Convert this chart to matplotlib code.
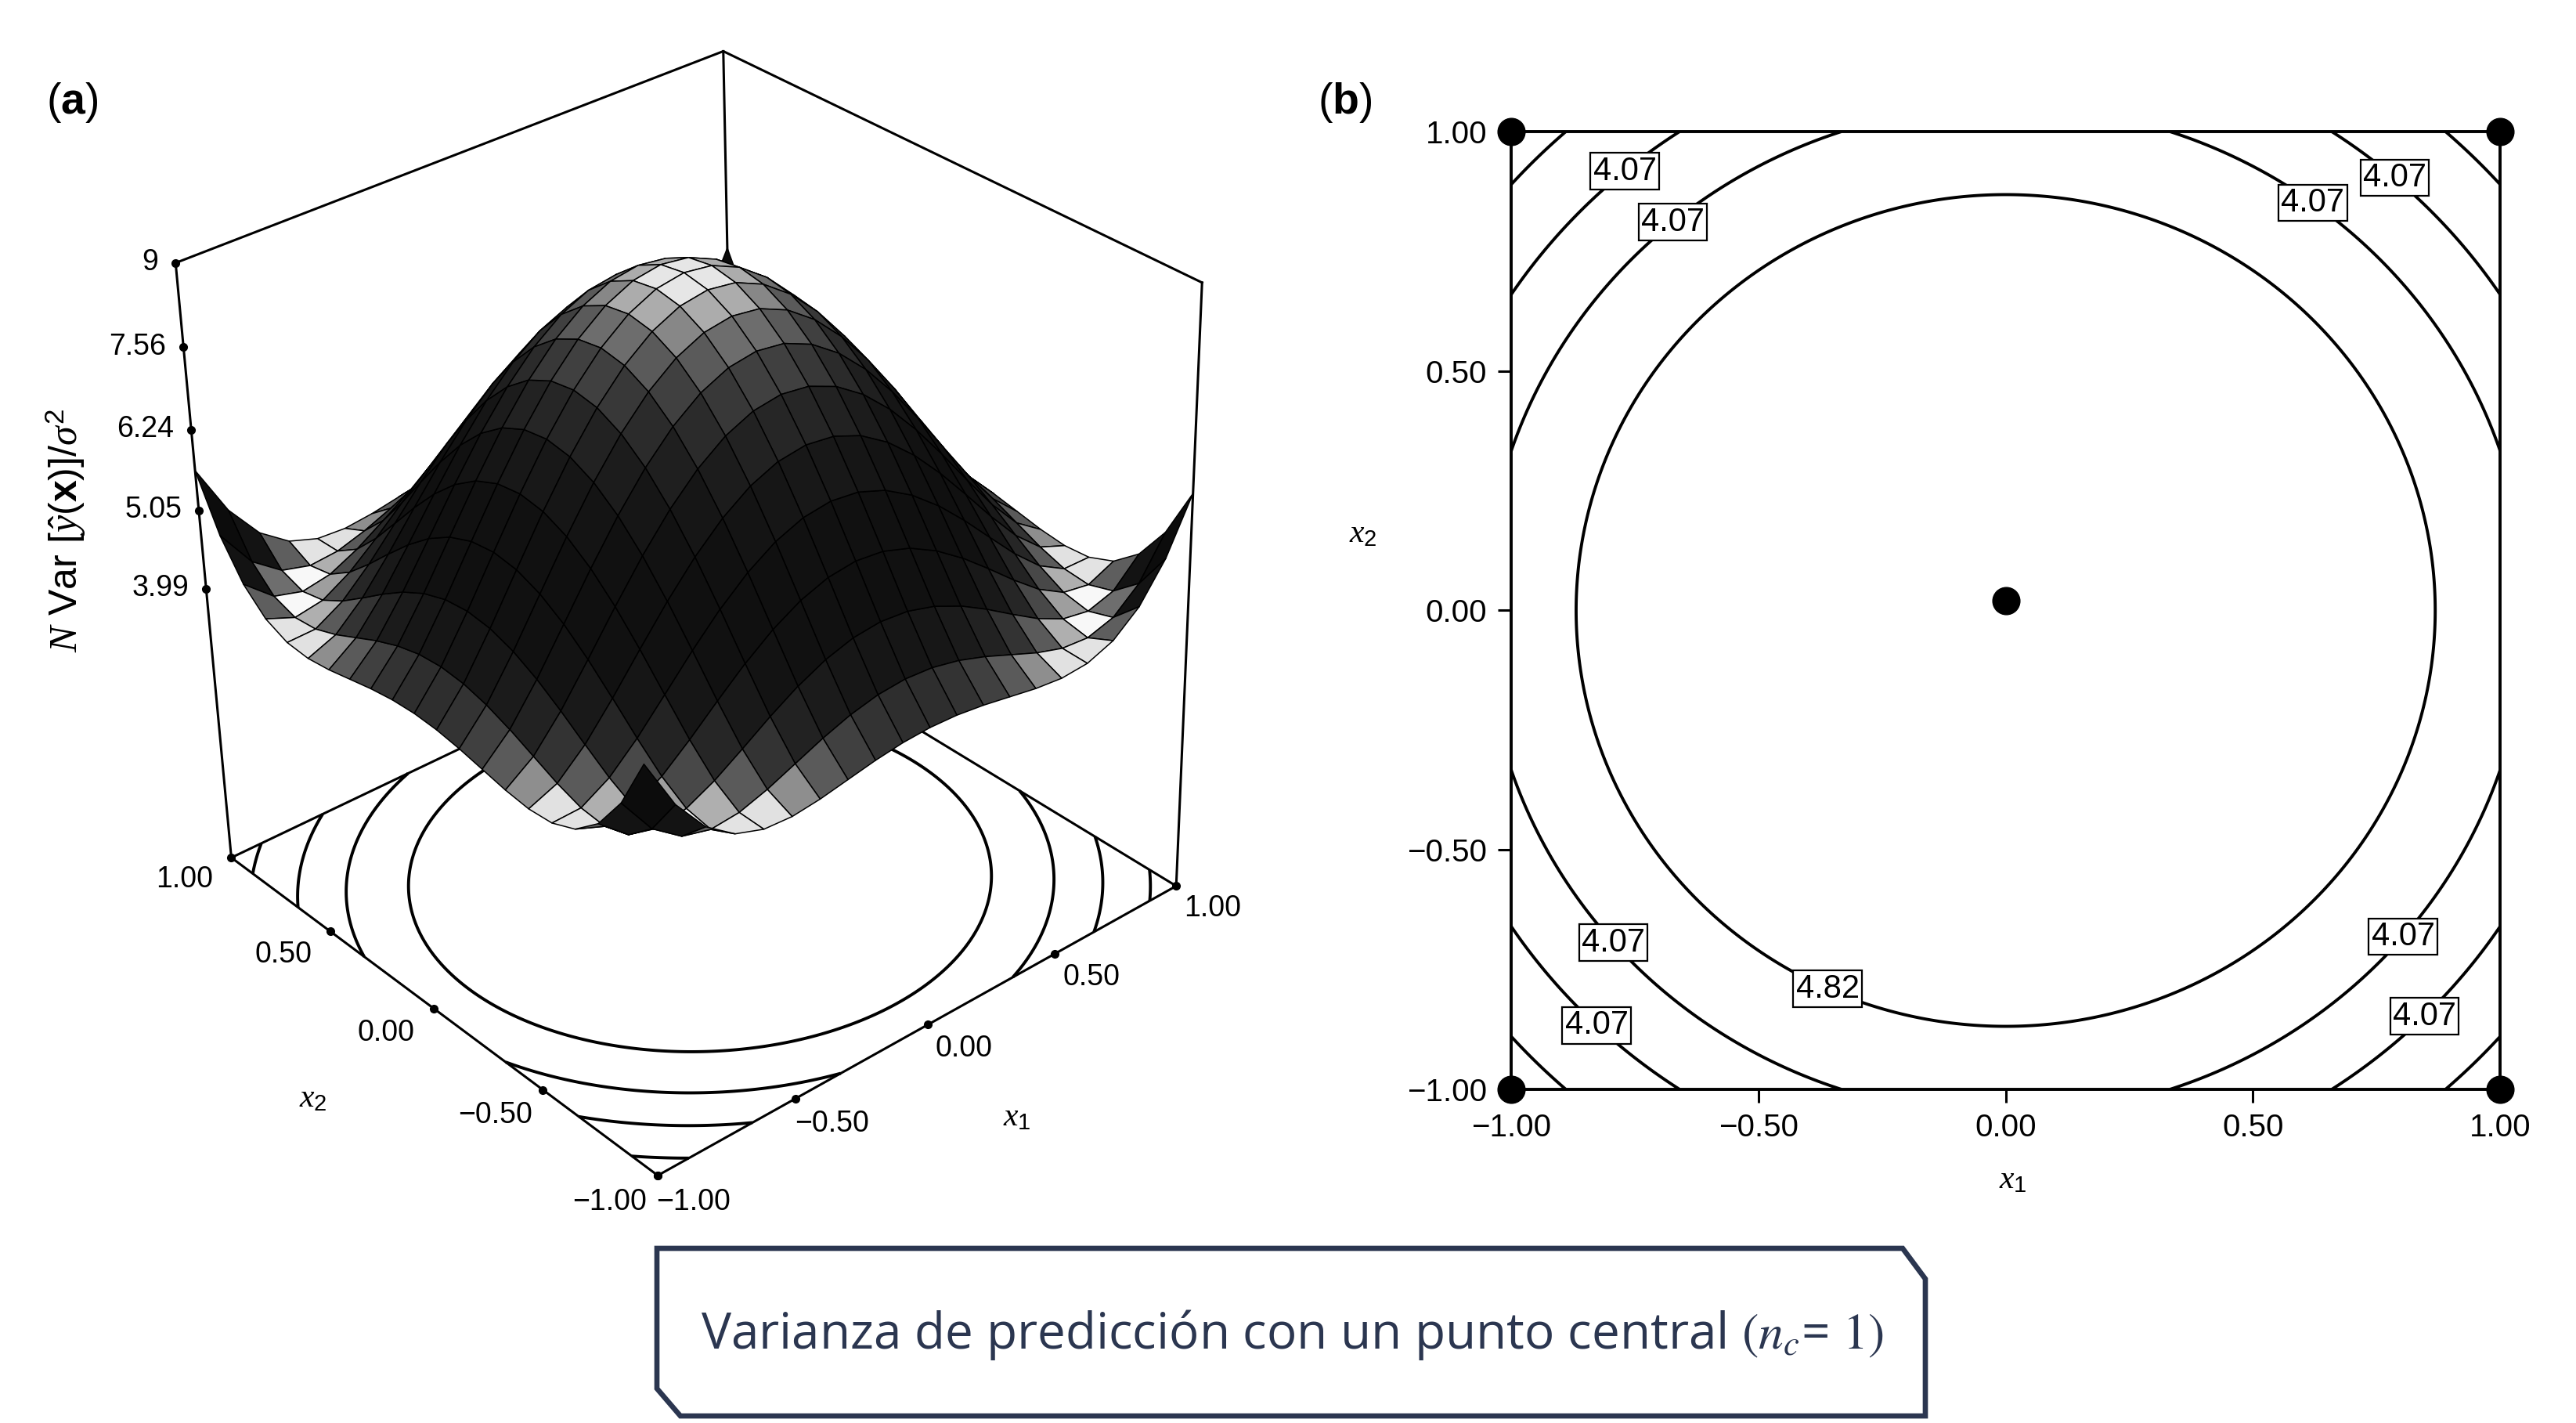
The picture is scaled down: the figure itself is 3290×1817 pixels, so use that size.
import numpy as np
import matplotlib
matplotlib.use('Agg')
import matplotlib.pyplot as plt
from matplotlib.patches import Polygon

plt.rcParams['font.family'] = ['Liberation Sans', 'DejaVu Sans']
plt.rcParams['mathtext.fontset'] = 'custom'
plt.rcParams['mathtext.rm'] = 'Liberation Sans'
plt.rcParams['mathtext.it'] = 'Liberation Serif:italic'
plt.rcParams['mathtext.bf'] = 'Liberation Sans:bold'

# central composite design, alpha = 1.414, one centre run
design_x1 = [-1, 1, -1, 1, -1.414, 1.414, 0, 0, 0]
design_x2 = [-1, -1, 1, 1, 0, 0, -1.414, 1.414, 0]

# runs that fall inside the plotted square (panel b)
shown_x1 = [-1, 1, -1, 1, 0]
shown_x2 = [-1, -1, 1, 1, 0.02]

contour_levels = [4.07, 4.82]
# the vertical axis of panel (a) is on a square-root scale
z_ticks = [3.99, 5.05, 6.24, 7.56, 9]
z_tick_labels = ['3.99', '5.05', '6.24', '7.56', '9']
xy_ticks = [-1.0, -0.5, 0.0, 0.5, 1.0]
xy_tick_labels = ['\u22121.00', '\u22120.50', '0.00', '0.50', '1.00']

# where the contour labels sit in panel (b)
label_x1 = [-0.78, -0.68, 0.80, 0.62, -0.80, -0.83, -0.36, 0.78, 0.84]
label_x2 = [0.93, 0.82, 0.92, 0.85, -0.70, -0.87, -0.79, -0.66, -0.84]

caption = 'Varianza de predicción con un punto central '


def model_terms(a, b):
    return np.array([np.ones_like(a), a, b, a * a, b * b, a * b])


D = model_terms(np.array(design_x1, float), np.array(design_x2, float)).T
XtX_inv = np.linalg.inv(D.T @ D)
n_runs = len(design_x1)


def scaled_pred_var(a, b):
    F = model_terms(a.ravel(), b.ravel())
    v = n_runs * np.einsum('im,ij,jm->m', F, XtX_inv, F)
    return v.reshape(a.shape)


fig = plt.figure(figsize=(32.9, 18.17), dpi=100)

# ---------------- panel (a): 3D surface ----------------
z_floor = 1.1
z_top = 3.0

ax3 = fig.add_axes([-0.018, 0.127, 0.56, 0.90], projection='3d', computed_zorder=False)
ax3.set_proj_type('persp', focal_length=0.65)
ax3.view_init(elev=32, azim=-129.5, roll=1.5)
ax3.set_xlim(-1, 1)
ax3.set_ylim(-1, 1)
ax3.set_zlim(z_floor, z_top)
ax3.set_box_aspect((1, 1, 1.01), zoom=0.92)
ax3.set_axis_off()

g = np.linspace(-1, 1, 21)
X, Y = np.meshgrid(g, g)
Z = np.sqrt(scaled_pred_var(X, Y))

# facet shading: flat facets bright, steep ones dark
step = g[1] - g[0]
gx = (Z[:-1, 1:] + Z[1:, 1:] - Z[:-1, :-1] - Z[1:, :-1]) / (2 * step)
gy = (Z[1:, :-1] + Z[1:, 1:] - Z[:-1, :-1] - Z[:-1, 1:]) / (2 * step)
k = 1.5
light = 1.0 / np.sqrt(1 + (k * gx) ** 2 + (k * gy) ** 2)
light = np.clip((light - 0.4) / 0.6, 0, 1) ** 1.4
light = np.pad(light, ((0, 1), (0, 1)), mode='edge')
fcol = plt.cm.gray(0.05 + 0.93 * light)

# floor contours and back box edges
gf = np.linspace(-1, 1, 301)
Xf, Yf = np.meshgrid(gf, gf)
Zf = scaled_pred_var(Xf, Yf)
cs3 = ax3.contour(Xf, Yf, Zf, levels=contour_levels, zdir='z', offset=z_floor,
                  colors='k', linewidths=2.8)
cs3.set_zorder(1)

box_kw = dict(color='k', lw=2.2)
ax3.plot([-1, 1, 1], [1, 1, -1], [z_floor] * 3, zorder=1, **box_kw)
ax3.plot([1, 1], [1, 1], [z_floor, z_top], zorder=1, **box_kw)
ax3.plot([-1, 1, 1], [1, 1, -1], [z_top] * 3, zorder=1, **box_kw)

ax3.plot_surface(X, Y, Z, rstride=1, cstride=1, facecolors=fcol, shade=False,
                 edgecolor='k', linewidth=1.1, antialiased=True, zorder=2)

ax3.plot([-1, -1], [1, 1], [z_floor, z_top], zorder=5, **box_kw)
ax3.plot([1, 1], [-1, -1], [z_floor, z_top], zorder=5, **box_kw)
ax3.plot([-1, -1, 1], [1, -1, -1], [z_floor] * 3, zorder=5, **box_kw)

# z axis ticks on the left vertical edge
z_pos = np.sqrt(z_ticks)
ax3.plot([-1] * len(z_ticks), [1] * len(z_ticks), z_pos, 'o', color='k', ms=7, zorder=6)
for zt, zl in zip(z_pos, z_tick_labels):
    ax3.text(-1.035, 1.035, zt, zl, ha='right', va='center', fontsize=27, zorder=6)

# floor ticks
ax3.plot([-1] * 5, xy_ticks, [z_floor] * 5, 'o', color='k', ms=7, zorder=6)
ax3.plot(xy_ticks, [-1] * 5, [z_floor] * 5, 'o', color='k', ms=7, zorder=6)
for t, tl in zip(xy_ticks, xy_tick_labels):
    ax3.text(-1.17, t, z_floor, tl, ha='center', va='center', fontsize=27, zorder=6)
    ax3.text(t, -1.15, z_floor, tl, ha='center', va='center', fontsize=27, zorder=6)
ax3.text(-1.5, -0.1, z_floor, '$x_2$', ha='center', va='center', fontsize=30)
ax3.text(-0.1, -1.47, z_floor, '$x_1$', ha='center', va='center', fontsize=30)

fig.text(0.0255, 0.627, r'$N$ Var [$\hat{y}$($\mathbf{x}$)]/$\sigma^2$', rotation=90,
         ha='center', va='center', fontsize=36)

# ---------------- panel (b): contour plot ----------------
ax = fig.add_axes([0.5866, 0.2345, 0.384, 0.673])
gb = np.linspace(-1, 1, 401)
Xb, Yb = np.meshgrid(gb, gb)
Zb = scaled_pred_var(Xb, Yb)
cs = ax.contour(Xb, Yb, Zb, levels=contour_levels, colors='k', linewidths=2.8)
labels = ax.clabel(cs, fmt='%.2f', inline=False, fontsize=30,
                   manual=list(zip(label_x1, label_x2)))
for t in labels:
    t.set_rotation(0)
    t.set_bbox(dict(boxstyle='square,pad=0.08', fc='white', ec='k', lw=1.6))
    t.set_zorder(4)

ax.plot(shown_x1, shown_x2, 'o', color='k', ms=25, clip_on=False, zorder=5)
ax.set_xlim(-1, 1)
ax.set_ylim(-1, 1)
ax.set_xticks(xy_ticks)
ax.set_xticklabels(xy_tick_labels)
ax.set_yticks(xy_ticks)
ax.set_yticklabels(xy_tick_labels)
ax.tick_params(direction='out', length=12, width=2.2, labelsize=29, pad=10)
for s in ax.spines.values():
    s.set_linewidth(2.8)
ax.text(0.507, -0.094, '$x_1$', transform=ax.transAxes, ha='center', va='center', fontsize=30)
ax.text(-0.15, 0.58, '$x_2$', transform=ax.transAxes, ha='center', va='center', fontsize=30)

# panel letters
fig.text(0.028, 0.928, r'($\mathbf{a}$)', ha='center', va='center', fontsize=40)
fig.text(0.522, 0.928, r'($\mathbf{b}$)', ha='center', va='center', fontsize=40)

# ---------------- caption box ----------------
W, H = 3290.0, 1817.0
box_px = [(839, 1594), (2430, 1594), (2459, 1633), (2459, 1808),
          (869, 1808), (839, 1773)]
box = Polygon([(x / W, 1 - y / H) for x, y in box_px], closed=True,
              transform=fig.transFigure, fc='white', ec='#2b3650', lw=4.8)
fig.patches.append(box)
fig.text(1650 / W, 1 - 1704 / H, caption + r'$(n_c$' + '= ' + r'$1)$',
         ha='center', va='center', fontsize=46, color='#2b3650',
         family=['Open Sans', 'DejaVu Sans'], math_fontfamily='stix')

fig.savefig('out.png', dpi=100)
